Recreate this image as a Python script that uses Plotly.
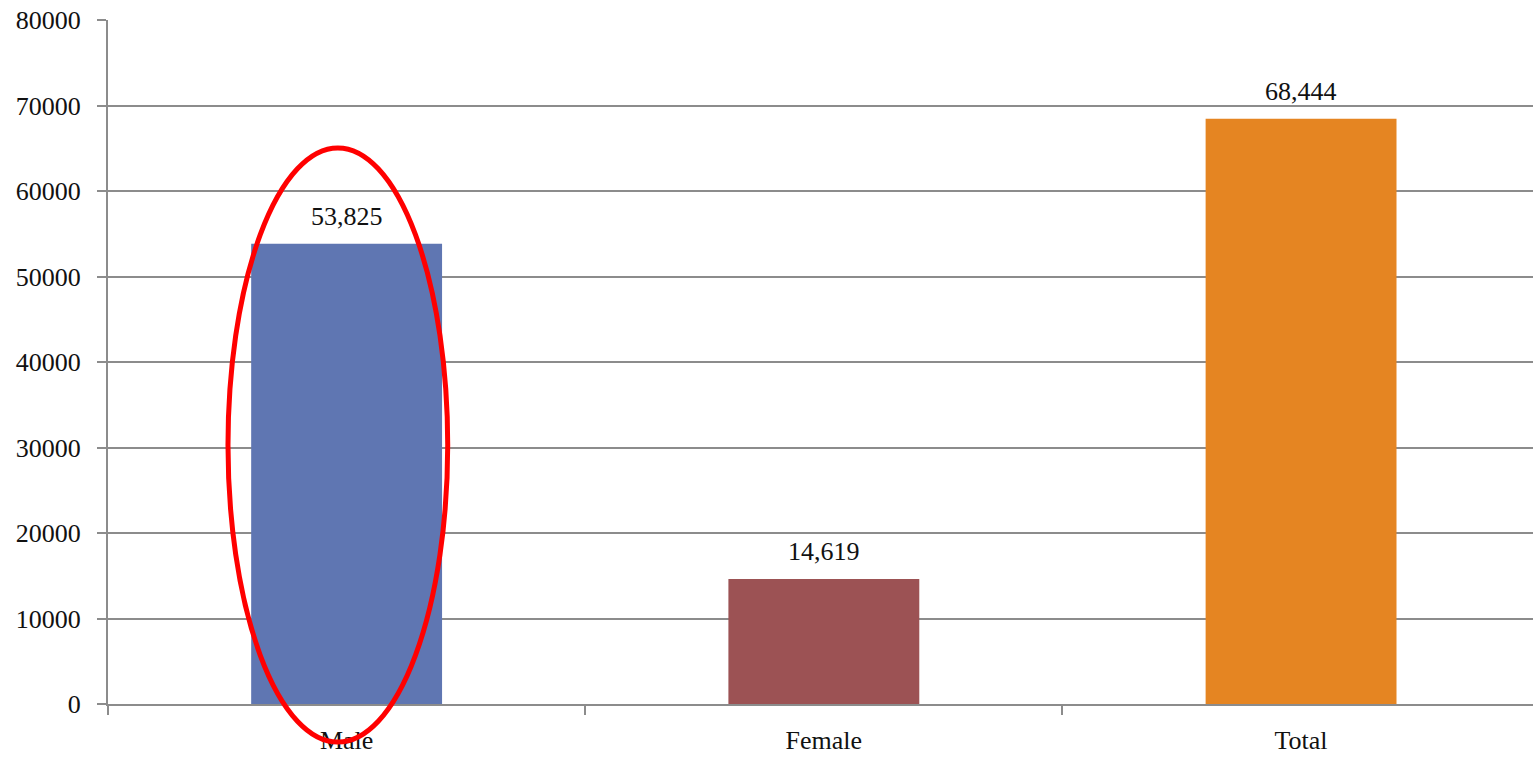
import plotly.graph_objects as go

categories = ["Male", "Female", "Total"]
counts = [53825, 14619, 68444]
bar_colors = ["#5f76b2", "#9c5254", "#e58522"]
y_ticks = [0, 10000, 20000, 30000, 40000, 50000, 60000, 70000, 80000]

FONT = "Liberation Serif, Times New Roman, serif"
GRID = "#8c8c8c"

fig = go.Figure()
fig.add_trace(go.Bar(
    x=categories,
    y=counts,
    marker=dict(color=bar_colors, line=dict(width=0)),
    width=0.4,
    showlegend=False,
    hoverinfo="x+y",
))

# value labels above each bar
for cat, val in zip(categories, counts):
    fig.add_annotation(
        x=cat, y=val, text=f"{val:,}",
        showarrow=False, yanchor="bottom", yshift=11,
        font=dict(family=FONT, size=26, color="#111111"),
    )

# red ellipse highlighting the Male bar
fig.add_shape(
    type="circle", xref="paper", yref="paper",
    x0=0.0842, x1=0.2384, y0=-0.0556, y1=0.8129,
    line=dict(color="#ff0000", width=5),
    fillcolor="rgba(0,0,0,0)", layer="above",
)

fig.update_layout(
    width=1533, height=757,
    margin=dict(l=108, r=0, t=20, b=53),
    paper_bgcolor="white", plot_bgcolor="white",
    font=dict(family=FONT, size=26, color="#111111"),
    bargap=0.6,
    xaxis=dict(
        type="category", range=[-0.5, 2.486],
        showline=True, linecolor=GRID, linewidth=2,
        ticks="outside", tickson="boundaries", ticklen=9, tickcolor=GRID, tickwidth=1.5,
        showgrid=False, tickfont=dict(family=FONT, size=26),
        ticklabelstandoff=12,
    ),
    yaxis=dict(
        range=[0, 80000], tickvals=y_ticks, ticktext=[str(v) for v in y_ticks],
        showline=True, linecolor=GRID, linewidth=2,
        ticks="outside", ticklen=9, tickcolor=GRID, tickwidth=1.5,
        showgrid=True, gridcolor=GRID, gridwidth=1.5,
        zeroline=False, tickfont=dict(family=FONT, size=26),
        ticklabelstandoff=11,
    ),
)

fig.write_html("out.html")
